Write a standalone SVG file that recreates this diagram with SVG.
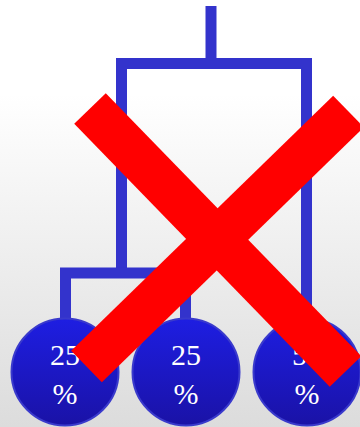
<svg xmlns="http://www.w3.org/2000/svg" width="360" height="427" viewBox="0 0 360 427">
<defs>
<linearGradient id="bg" x1="0" y1="0" x2="0" y2="1">
<stop offset="0" stop-color="#ffffff"/>
<stop offset="0.22" stop-color="#ffffff"/>
<stop offset="1" stop-color="#dcdcdc"/>
</linearGradient>
<linearGradient id="ball" x1="0" y1="0" x2="0" y2="1">
<stop offset="0" stop-color="#1e1ee2"/>
<stop offset="1" stop-color="#1a12a6"/>
</linearGradient>
<style>
.wire{fill:none;stroke:#3333cc;stroke-width:11;stroke-linejoin:miter;stroke-linecap:butt}
.ball{fill:url(#ball);stroke:#3a3acc;stroke-width:2}
.lbl{font-family:"Liberation Serif","Times New Roman",serif;font-size:30px;fill:#ffffff;text-anchor:middle}
.cross{stroke:#ff0000;stroke-width:44;stroke-linecap:butt;fill:none}
</style>
</defs>
<rect x="0" y="0" width="360" height="427" fill="url(#bg)"/>
<g id="connectors">
<path class="wire" d="M211 6 V63.5"/>
<path class="wire" d="M121.5 268 V63.5 H306.5 V320"/>
<path class="wire" d="M65.5 322 V273 H185.5 V322"/>
</g>
<g id="node1">
<circle class="ball" cx="65" cy="372" r="53.5"/>
<text class="lbl" x="65" y="365">25</text>
<text class="lbl" x="65" y="404">%</text>
</g>
<g id="node2">
<circle class="ball" cx="186" cy="372" r="53.5"/>
<text class="lbl" x="186" y="365">25</text>
<text class="lbl" x="186" y="404">%</text>
</g>
<g id="node3">
<circle class="ball" cx="307" cy="372" r="53.5"/>
<text class="lbl" x="307" y="365">50</text>
<text class="lbl" x="307" y="404">%</text>
</g>
<g id="cross">
<line class="cross" x1="90" y1="108.5" x2="345.5" y2="371.5"/>
<line class="cross" x1="86.5" y1="366.5" x2="348.5" y2="111.5"/>
</g>
</svg>
